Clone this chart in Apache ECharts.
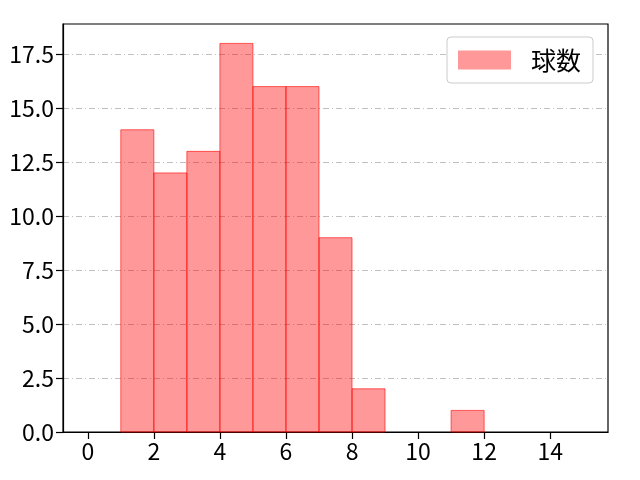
<!DOCTYPE html>
<html>
<head>
<meta charset="utf-8">
<script src="https://cdn.jsdelivr.net/npm/echarts@6/dist/echarts.min.js"></script>
<style>
  html, body { margin: 0; padding: 0; background: #fff; }
  #chart { width: 640px; height: 480px; }
</style>
</head>
<body>
<div id="chart"></div>
<script>
// histogram bins (left edges, width 1) and counts
const binStarts = [1, 2, 3, 4, 5, 6, 7, 8, 9, 10, 11];
const binWidth = 1;
const counts = [14, 12, 13, 18, 16, 16, 9, 2, 0, 0, 1];
const xTicks = [0, 2, 4, 6, 8, 10, 12, 14];
const yTicks = [0, 2.5, 5, 7.5, 10, 12.5, 15, 17.5];
const seriesName = '球数';

const font = '"Noto Sans CJK JP", sans-serif';

const chart = echarts.init(document.getElementById('chart'));

const data = binStarts.map(function(s, i) {
    return [s, s + binWidth, counts[i]];
});

chart.setOption({
    animation: false,
    backgroundColor: '#fff',
    grid: {
        left: 63, right: 32, top: 24, bottom: 48,
        show: true, borderColor: '#000', borderWidth: 1.2,
        backgroundColor: 'transparent'
    },
    legend: {
        data: [{ name: seriesName, icon: 'rect' }],
        left: 447, top: 37,
        itemWidth: 53, itemHeight: 19,
        padding: [10, 12, 10, 11],
        borderColor: '#cccccc', borderWidth: 1, borderRadius: 4,
        backgroundColor: '#fff',
        textStyle: { fontFamily: font, fontSize: 25, lineHeight: 26, color: '#000', padding: [0, 0, 0, 15] }
    },
    xAxis: {
        type: 'value',
        min: -0.75, max: 15.75,
        axisLine: { show: true, onZero: false, lineStyle: { color: '#000', width: 1.2 } },
        axisTick: { show: true, customValues: xTicks, length: 7, lineStyle: { color: '#000', width: 1.2 } },
        axisLabel: { customValues: xTicks, fontFamily: font, fontSize: 23, color: '#000', margin: 8 },
        splitLine: { show: false }
    },
    yAxis: {
        type: 'value',
        min: 0, max: 18.9, interval: 2.5,
        axisLine: { show: true, onZero: false, lineStyle: { color: '#000', width: 1.2 } },
        axisTick: { show: true, customValues: yTicks, length: 7, lineStyle: { color: '#000', width: 1.2 } },
        axisLabel: {
            customValues: yTicks,
            fontFamily: font, fontSize: 23, color: '#000', margin: 9,
            formatter: function(v) { return v.toFixed(1); }
        },
        splitLine: {
            show: true,
            lineStyle: { color: '#b0b0b0', width: 0.8, type: [6, 3, 1, 3] }
        }
    },
    series: [{
        name: seriesName,
        type: 'custom',
        itemStyle: { color: 'rgba(255,0,0,0.4)' },
        renderItem: function(params, api) {
            const p0 = api.coord([api.value(0), api.value(2)]);
            const p1 = api.coord([api.value(1), 0]);
            if (api.value(2) <= 0) return null;
            return {
                type: 'rect',
                shape: { x: p0[0], y: p0[1], width: p1[0] - p0[0], height: p1[1] - p0[1] },
                style: { fill: 'rgba(255,0,0,0.4)', stroke: 'rgba(255,0,0,0.6)', lineWidth: 1 }
            };
        },
        encode: { x: [0, 1], y: 2 },
        data: data
    }]
});
</script>
</body>
</html>
